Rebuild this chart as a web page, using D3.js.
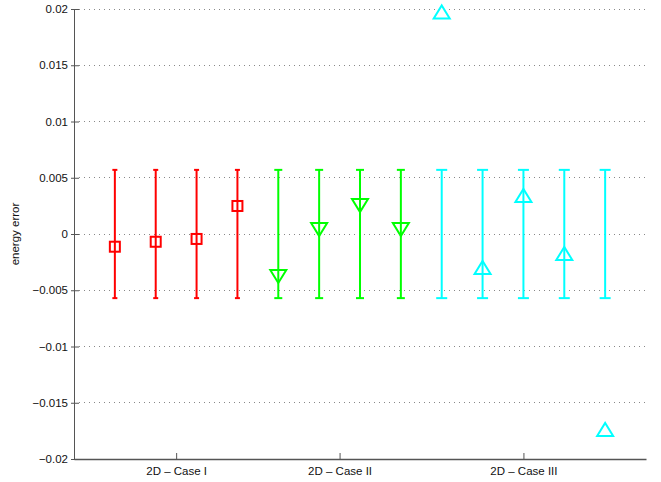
<!DOCTYPE html>
<html>
<head>
<meta charset="utf-8">
<script src="https://cdn.jsdelivr.net/npm/d3@7"></script>
<style>
  body { margin: 0; background: #fff; }
  svg { display: block; font-family: "Liberation Sans", Arial, Helvetica, sans-serif; }
</style>
</head>
<body>
<div id="chart"></div>
<script>
// Data
const groupLabels = ["2D \u2013 Case I", "2D \u2013 Case II", "2D \u2013 Case III"];
const groupTicks = [2.5, 6.5, 11];
const yTicks = [-0.02, -0.015, -0.01, -0.005, 0, 0.005, 0.01, 0.015, 0.02];
const yTickLabels = ["\u22120.02", "\u22120.015", "\u22120.01", "\u22120.005", "0", "0.005", "0.01", "0.015", "0.02"];

const caseIx = [1, 2, 3, 4];
const caseIy = [-0.00113, -0.00069, -0.00044, 0.00249];
const caseIIx = [5, 6, 7, 8];
const caseIIy = [-0.00373, 0.00044, 0.00258, 0.00044];
const caseIIIx = [9, 10, 11, 12, 13];
const caseIIIy = [0.0197, -0.00302, 0.00338, -0.00178, -0.01742];
const errHalf = 0.0057;

const width = 661, height = 482;
const margin = { left: 74, right: 15, top: 9, bottom: 23 };
const fontSize = "11.5px";

const svg = d3.select("#chart").append("svg")
    .attr("width", width)
    .attr("height", height);

const x = d3.scaleLinear().domain([0, 14]).range([margin.left, width - margin.right]);
const y = d3.scaleLinear().domain([-0.02, 0.02]).range([height - margin.bottom, margin.top]);

// Dotted grid
svg.append("g")
    .selectAll("line").data(yTicks.filter(d => d > -0.02)).enter().append("line")
    .attr("x1", x(0)).attr("x2", x(14))
    .attr("y1", d => y(d)).attr("y2", d => y(d))
    .attr("stroke", "#888").attr("stroke-width", 1)
    .attr("stroke-dasharray", "1,4")
    .attr("shape-rendering", "crispEdges");

// Y axis
const yAxis = svg.append("g").attr("transform", `translate(${x(0)},0)`)
    .call(d3.axisLeft(y).tickValues(yTicks).tickFormat((d, i) => yTickLabels[i]).tickSize(3).tickPadding(3));
yAxis.select(".domain").attr("stroke", "#555");
yAxis.selectAll(".tick line").attr("stroke", "#555").attr("x2", 5).attr("x1", -3);
yAxis.selectAll("text").attr("font-size", fontSize).attr("fill", "#111").attr("font-family", "Liberation Sans, Arial, sans-serif");

// X axis
const xAxis = svg.append("g").attr("transform", `translate(0,${y(-0.02)})`)
    .call(d3.axisBottom(x).tickValues(groupTicks).tickFormat((d, i) => groupLabels[i]).tickSize(0).tickPadding(8));
xAxis.select(".domain").attr("stroke", "#555").attr("stroke-width", 1.5);
xAxis.selectAll(".tick").append("line").attr("y1", 0).attr("y2", -6).attr("stroke", "#555");
xAxis.selectAll("text").attr("font-size", fontSize).attr("fill", "#111").attr("font-family", "Liberation Sans, Arial, sans-serif");

// Y label
svg.append("text")
    .attr("transform", `translate(19,${(y(0.02) + y(-0.02)) / 2}) rotate(-90)`)
    .attr("text-anchor", "middle")
    .attr("font-size", fontSize)
    .attr("fill", "#111")
    .text("energy error");

const series = [
    { xs: caseIx, ys: caseIy, color: "#ff0000", cap: 5, marker: "square" },
    { xs: caseIIx, ys: caseIIy, color: "#00ff00", cap: 8, marker: "down" },
    { xs: caseIIIx, ys: caseIIIy, color: "#00ffff", cap: 11, marker: "up" }
];

series.forEach(s => {
    const g = svg.append("g");
    const pts = s.xs.map((xv, i) => ({ x: xv, y: s.ys[i] }));
    // Error bars
    g.selectAll(".bar").data(pts).enter().append("line")
        .attr("x1", d => x(d.x)).attr("x2", d => x(d.x))
        .attr("y1", y(errHalf)).attr("y2", y(-errHalf))
        .attr("stroke", s.color).attr("stroke-width", 2);
    [errHalf, -errHalf].forEach(v => {
        g.selectAll(null).data(pts).enter().append("line")
            .attr("x1", d => x(d.x) - s.cap / 2).attr("x2", d => x(d.x) + s.cap / 2)
            .attr("y1", y(v)).attr("y2", y(v))
            .attr("stroke", s.color).attr("stroke-width", 2);
    });
    // Markers
    const sel = g.selectAll(".mk").data(pts).enter();
    if (s.marker === "square") {
        sel.append("rect")
            .attr("x", d => x(d.x) - 5).attr("y", d => y(d.y) - 5)
            .attr("width", 10).attr("height", 10)
            .attr("fill", "none").attr("stroke", s.color).attr("stroke-width", 2);
    } else {
        const dir = s.marker === "up" ? -1 : 1;
        sel.append("path")
            .attr("d", d => {
                const cx = x(d.x), cy = y(d.y);
                return `M${cx - 8},${cy - dir * 6} L${cx + 8},${cy - dir * 6} L${cx},${cy + dir * 7} Z`;
            })
            .attr("fill", "none").attr("stroke", s.color).attr("stroke-width", 2);
    }
});
</script>
</body>
</html>
